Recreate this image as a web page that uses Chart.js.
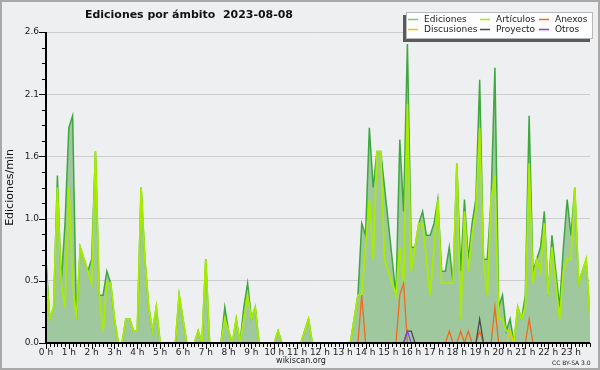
<!DOCTYPE html>
<html>
<head>
<meta charset="utf-8">
<script src="https://cdn.jsdelivr.net/npm/chart.js@4.4.1/dist/chart.umd.min.js"></script>
<style>
  html, body { margin: 0; padding: 0; background: #eeeff1; }
  canvas { display: block; }
</style>
</head>
<body>
<canvas id="myChart" width="600" height="370"></canvas>
<script>
// 10-minute slots over the day (minutes since 00:00)
const slots = Array.from({ length: 144 }, (_, i) => i * 10);

// edits per minute, one value per 10-minute slot (12 per row = 2 hours)
const ediciones = [
  0.7, 0.2, 0.3, 1.4, 0.5, 1.0, 1.8, 1.9, 0.2, 0.8, 0.7, 0.6,
  0.7, 1.6, 0.4, 0.4, 0.6, 0.5, 0.2, 0, 0, 0.2, 0.2, 0.1,
  0.1, 1.3, 0.7, 0.3, 0.1, 0.3, 0, 0, 0, 0, 0, 0.4,
  0.2, 0, 0, 0, 0.1, 0, 0.7, 0, 0, 0, 0, 0.3,
  0.1, 0, 0.2, 0, 0.3, 0.5, 0.2, 0.3, 0, 0, 0, 0,
  0, 0.1, 0, 0, 0, 0, 0, 0, 0.1, 0.2, 0, 0,
  0, 0, 0, 0, 0, 0, 0, 0, 0, 0.2, 0.4, 1.0,
  0.9, 1.8, 1.3, 1.6, 1.6, 1.3, 1.0, 0.7, 0.4, 1.7, 1.1, 2.5,
  0.8, 0.8, 1.0, 1.1, 0.9, 0.9, 1.0, 1.2, 0.6, 0.6, 0.8, 0.5,
  1.5, 0.6, 1.2, 0.7, 1.0, 1.2, 2.2, 0.7, 0.7, 1.2, 2.3, 0.3,
  0.4, 0.1, 0.2, 0, 0.3, 0.2, 0.4, 1.9, 0.6, 0.7, 0.8, 1.1,
  0.4, 0.9, 0.6, 0.3, 0.8, 1.2, 0.9, 1.3, 0.5, 0.6, 0.7, 0.2
];
const articulos = [
  0.6, 0.2, 0.3, 1.3, 0.5, 0.3, 1.3, 0.5, 0.2, 0.8, 0.7, 0.6,
  0.5, 1.6, 0.4, 0.1, 0.5, 0.5, 0.2, 0, 0, 0.2, 0.2, 0.1,
  0.1, 1.3, 0.7, 0.3, 0.1, 0.3, 0, 0, 0, 0, 0, 0.4,
  0.2, 0, 0, 0, 0.1, 0, 0.7, 0, 0, 0, 0, 0.2,
  0.1, 0, 0.2, 0, 0.2, 0.4, 0.2, 0.3, 0, 0, 0, 0,
  0, 0.1, 0, 0, 0, 0, 0, 0, 0.1, 0.2, 0, 0,
  0, 0, 0, 0, 0, 0, 0, 0, 0, 0.2, 0.4, 0.4,
  0.8, 1.2, 0.7, 1.6, 1.6, 0.7, 0.6, 0.5, 0.4, 0.8, 0.5, 2.0,
  0.6, 0.8, 1.0, 1.0, 0.7, 0.4, 0.8, 1.2, 0.5, 0.5, 0.5, 0.5,
  1.5, 0.2, 1.1, 0.6, 0.9, 1.1, 1.8, 0.7, 0.4, 1.2, 1.4, 0.2,
  0.2, 0.1, 0.1, 0, 0.3, 0.2, 0.3, 1.5, 0.5, 0.7, 0.6, 1.0,
  0.4, 0.8, 0.5, 0.2, 0.6, 0.7, 0.7, 1.3, 0.5, 0.6, 0.7, 0.2
];
const anexos = [
  0, 0, 0, 0, 0, 0, 0, 0, 0, 0, 0, 0,
  0, 0, 0, 0, 0, 0, 0, 0, 0, 0, 0, 0,
  0, 0, 0, 0, 0, 0, 0, 0, 0, 0, 0, 0,
  0, 0, 0, 0, 0, 0, 0, 0, 0, 0, 0, 0,
  0, 0, 0, 0, 0, 0, 0, 0, 0, 0, 0, 0,
  0, 0, 0, 0, 0, 0, 0, 0, 0, 0, 0, 0,
  0, 0, 0, 0, 0, 0, 0, 0, 0, 0, 0, 0.4,
  0, 0, 0, 0, 0, 0, 0, 0, 0, 0.4, 0.5, 0,
  0, 0, 0, 0, 0, 0, 0, 0, 0, 0, 0.1, 0,
  0, 0.1, 0, 0.1, 0, 0, 0.1, 0, 0, 0, 0.3, 0,
  0, 0, 0, 0, 0, 0, 0, 0.2, 0, 0, 0, 0,
  0, 0, 0, 0, 0, 0, 0, 0, 0, 0, 0, 0
];
const discusiones = [
  0, 0, 0, 0, 0, 0, 0, 0, 0, 0, 0, 0,
  0, 0, 0, 0, 0, 0, 0, 0, 0, 0, 0, 0,
  0, 0, 0, 0, 0, 0, 0, 0, 0, 0, 0, 0,
  0, 0, 0, 0, 0, 0, 0, 0, 0, 0, 0, 0,
  0, 0, 0, 0, 0, 0, 0, 0, 0, 0, 0, 0,
  0, 0, 0, 0, 0, 0, 0, 0, 0, 0, 0, 0,
  0, 0, 0, 0, 0, 0, 0, 0, 0, 0, 0, 0,
  0, 0, 0, 0, 0, 0, 0, 0, 0, 0, 0, 0,
  0, 0, 0, 0, 0, 0, 0, 0, 0, 0, 0, 0,
  0, 0, 0, 0, 0, 0, 0, 0, 0, 0, 0, 0,
  0, 0, 0.1, 0, 0, 0, 0, 0, 0, 0, 0, 0,
  0, 0, 0, 0, 0, 0, 0, 0, 0, 0, 0, 0
];
const proyecto = [
  0, 0, 0, 0, 0, 0, 0, 0, 0, 0, 0, 0,
  0, 0, 0, 0, 0, 0, 0, 0, 0, 0, 0, 0,
  0, 0, 0, 0, 0, 0, 0, 0, 0, 0, 0, 0,
  0, 0, 0, 0, 0, 0, 0, 0, 0, 0, 0, 0,
  0, 0, 0, 0, 0, 0, 0, 0, 0, 0, 0, 0,
  0, 0, 0, 0, 0, 0, 0, 0, 0, 0, 0, 0,
  0, 0, 0, 0, 0, 0, 0, 0, 0, 0, 0, 0,
  0, 0, 0, 0, 0, 0, 0, 0, 0, 0, 0, 0.1,
  0.1, 0, 0, 0, 0, 0, 0, 0, 0, 0, 0, 0,
  0, 0, 0, 0, 0, 0, 0.2, 0, 0, 0, 0, 0,
  0, 0, 0, 0, 0, 0, 0, 0, 0, 0, 0, 0,
  0, 0, 0, 0, 0, 0, 0, 0, 0, 0, 0, 0
];
const otros = [
  0, 0, 0, 0, 0, 0, 0, 0, 0, 0, 0, 0,
  0, 0, 0, 0, 0, 0, 0, 0, 0, 0, 0, 0,
  0, 0, 0, 0, 0, 0, 0, 0, 0, 0, 0, 0,
  0, 0, 0, 0, 0, 0, 0, 0, 0, 0, 0, 0,
  0, 0, 0, 0, 0, 0, 0, 0, 0, 0, 0, 0,
  0, 0, 0, 0, 0, 0, 0, 0, 0, 0, 0, 0,
  0, 0, 0, 0, 0, 0, 0, 0, 0, 0, 0, 0,
  0, 0, 0, 0, 0, 0, 0, 0, 0, 0, 0, 0.1,
  0, 0, 0, 0, 0, 0, 0, 0, 0, 0, 0, 0,
  0, 0, 0, 0, 0, 0, 0, 0, 0, 0, 0, 0,
  0, 0, 0, 0, 0, 0, 0, 0, 0, 0, 0, 0,
  0, 0, 0, 0, 0, 0, 0, 0, 0, 0, 0, 0
];

// axis ticks
const hourTicks = [0, 1, 2, 3, 4, 5, 6, 7, 8, 9, 10, 11, 12, 13, 14, 15, 16, 17, 18, 19, 20, 21, 22, 23];
const yTicks = [0, 0.52, 1.04, 1.56, 2.08, 2.6];
const yMinorStep = 0.13;

const titleText = 'Ediciones por ámbito  2023-08-08';

const FONT = '"DejaVu Sans", Verdana, sans-serif';

const decor = {
  id: 'decor',
  beforeDraw(chart) {
    const c = chart.ctx;
    c.save();
    c.fillStyle = '#eeeff1';
    c.fillRect(0, 0, chart.width, chart.height);
    c.restore();
  },
  afterDraw(chart) {
    const c = chart.ctx;
    const xs = chart.scales.x, ys = chart.scales.y, a = chart.chartArea;
    c.save();

    // axis lines (2px, drawn over zero-valued series) + ticks
    c.strokeStyle = '#000';
    c.lineWidth = 2;
    c.beginPath();
    c.moveTo(a.left, a.top);
    c.lineTo(a.left, a.bottom);
    c.lineTo(a.right, a.bottom);
    c.stroke();

    c.lineWidth = 1;
    c.beginPath();
    slots.forEach(m => {
      const px = Math.round(xs.getPixelForValue(m)) + 0.5;
      const len = m % 60 === 0 ? 5 : 3;
      c.moveTo(px, a.bottom);
      c.lineTo(px, a.bottom + 1 + len);
    });
    for (let k = 0; k <= 20; k++) {
      const py = Math.round(ys.getPixelForValue(k * yMinorStep)) + 0.5;
      const len = k % 4 === 0 ? 6 : 3;
      c.moveTo(a.left - 1 - len, py);
      c.lineTo(a.left, py);
    }
    c.stroke();

    // title
    c.fillStyle = '#111';
    c.font = 'bold 11px ' + FONT;
    c.textAlign = 'left';
    c.textBaseline = 'alphabetic';
    c.fillText(titleText, 85, 18, 208);

    // y axis title
    c.save();
    c.translate(10, (a.top + a.bottom) / 2);
    c.rotate(-Math.PI / 2);
    c.font = '11px ' + FONT;
    c.textAlign = 'center';
    c.textBaseline = 'middle';
    c.fillText('Ediciones/min', 0, 0);
    c.restore();

    // footer
    c.font = '8px ' + FONT;
    c.textAlign = 'center';
    c.textBaseline = 'middle';
    c.fillStyle = '#222';
    c.fillText('wikiscan.org', 301, 361);
    c.font = '6px ' + FONT;
    c.textAlign = 'left';
    c.fillText('CC BY-SA 3.0', 552, 363);

    // legend box with shadow
    c.fillStyle = '#5a5a5a';
    c.fillRect(403, 15, 187, 27);
    c.fillStyle = '#fdfdfd';
    c.fillRect(406, 12, 187, 27);
    c.strokeStyle = '#b8b8b8';
    c.lineWidth = 1;
    c.strokeRect(406.5, 12.5, 186, 26);

    const cols = [408, 480, 539];
    const rows = [19, 29];
    c.font = '9px ' + FONT;
    c.textBaseline = 'middle';
    c.textAlign = 'left';
    chart.data.datasets.forEach((ds, i) => {
      const x = cols[i % 3], y = rows[Math.floor(i / 3)];
      c.strokeStyle = ds.legendColor || ds.borderColor;
      c.lineWidth = 1.5;
      c.beginPath();
      c.moveTo(x, y + 0.5);
      c.lineTo(x + 10, y + 0.5);
      c.stroke();
      c.fillStyle = '#222';
      c.fillText(ds.label, x + 16, y + 0.5);
    });

    // outer frame
    c.strokeStyle = '#a9a9a9';
    c.lineWidth = 2;
    c.strokeRect(1, 1, chart.width - 2, chart.height - 2);
    c.restore();
  }
};

const ctx = document.getElementById('myChart');

new Chart(ctx, {
  type: 'line',
  data: {
    labels: slots,
    datasets: [
      { label: 'Ediciones', data: ediciones, borderColor: '#3da83d', legendColor: '#7cc87c', borderWidth: 1.5,
        fill: 'origin', backgroundColor: '#9fc89f', order: 6 },
      { label: 'Artículos', data: articulos, borderColor: '#a8ec00', borderWidth: 1.8, fill: false, order: 5 },
      { label: 'Anexos', data: anexos, borderColor: '#f26a1b', borderWidth: 1.3, fill: false, order: 4 },
      { label: 'Discusiones', data: discusiones, borderColor: '#f0c800', borderWidth: 1.3, fill: false, order: 3 },
      { label: 'Proyecto', data: proyecto, borderColor: '#4a4a4a', borderWidth: 1.3, fill: false, order: 2 },
      { label: 'Otros', data: otros, borderColor: '#8a3ee6', borderWidth: 1.3, fill: false, order: 1 }
    ]
  },
  options: {
    responsive: false,
    animation: false,
    layout: { padding: { top: 32, right: 10, left: 0, bottom: 0 } },
    elements: {
      point: { radius: 0 },
      line: { tension: 0 }
    },
    plugins: {
      legend: { display: false },
      tooltip: { enabled: false },
      title: { display: false }
    },
    scales: {
      x: {
        type: 'linear',
        min: 0,
        max: 1430,
        afterFit(s) { s.height = 27; },
        afterBuildTicks(s) { s.ticks = hourTicks.map(h => ({ value: h * 60 })); },
        ticks: {
          callback: v => (v / 60) + ' h',
          font: { family: 'DejaVu Sans', size: 9 },
          color: '#222',
          padding: 4,
          maxRotation: 0,
          autoSkip: false
        },
        grid: { drawOnChartArea: false, drawTicks: false },
        border: { color: '#000' }
      },
      y: {
        min: 0,
        max: 2.6,
        afterFit(s) { s.width = 46; },
        afterBuildTicks(s) { s.ticks = yTicks.map(v => ({ value: v })); },
        ticks: {
          callback: v => v.toFixed(1),
          font: { family: 'DejaVu Sans', size: 9 },
          color: '#222',
          padding: 7
        },
        grid: { color: '#cdcdcd', drawTicks: false },
        border: { color: '#000' }
      }
    }
  },
  plugins: [decor]
});
</script>
</body>
</html>
